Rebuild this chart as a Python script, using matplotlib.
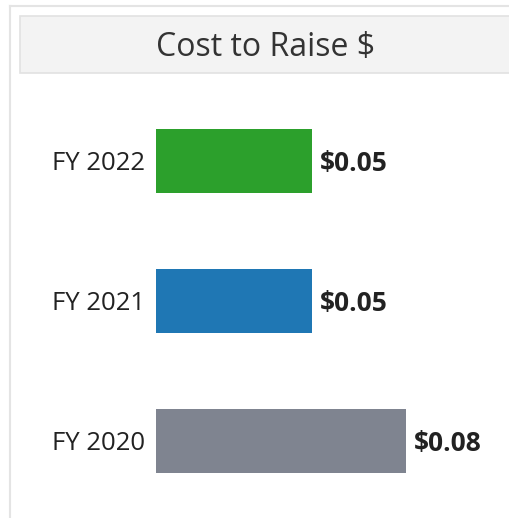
import matplotlib.pyplot as plt
from matplotlib.patches import Rectangle
from matplotlib.lines import Line2D

# Data
years = ['FY 2020', 'FY 2021', 'FY 2022']
cost = [0.08, 0.05, 0.05]
colors = ['#7f8490', '#1f77b4', '#2ca02c']
title = 'Cost to Raise $'

plt.rcParams['font.family'] = ['Open Sans', 'DejaVu Sans']

W, H = 510, 518
fig = plt.figure(figsize=(W / 100, H / 100), dpi=100)

# frame lines and title box
fig.add_artist(Line2D([10 / W, 1], [1 - 6 / H, 1 - 6 / H], color='#e4e4e4', lw=1.5))
fig.add_artist(Line2D([10 / W, 10 / W], [0, 1 - 6 / H], color='#e4e4e4', lw=1.5))
fig.add_artist(Rectangle((20 / W, 1 - 73 / H), 1, 57 / H, facecolor='#f3f3f3',
                         edgecolor='#e2e2e2', lw=1.2))
fig.text(266 / W, 1 - 43 / H, title.replace('$', r'\$'), ha='center', va='center_baseline',
         fontsize=23, color='#333333')

ax = fig.add_axes([156 / W, 7 / H, (W - 156) / W, 423 / H])
ax.barh(range(len(years)), cost, height=64 / 140, color=colors)
ax.set_xlim(0, (W - 156) / 3125)
ax.set_ylim(-0.5, 2.521)
ax.set_yticks(range(len(years)))
ax.set_yticklabels(years, fontsize=18.5, color='#222222', va='center_baseline')
ax.tick_params(axis='y', length=0, pad=8)
ax.set_xticks([])
for s in ax.spines.values():
    s.set_visible(False)

# value labels
for i, v in enumerate(cost):
    ax.text(v + 0.0025, i, f'\\${v:.2f}', va='center_baseline', ha='left',
            fontsize=19, fontweight='bold', color='#222222')

fig.savefig('out.png', dpi=100)
